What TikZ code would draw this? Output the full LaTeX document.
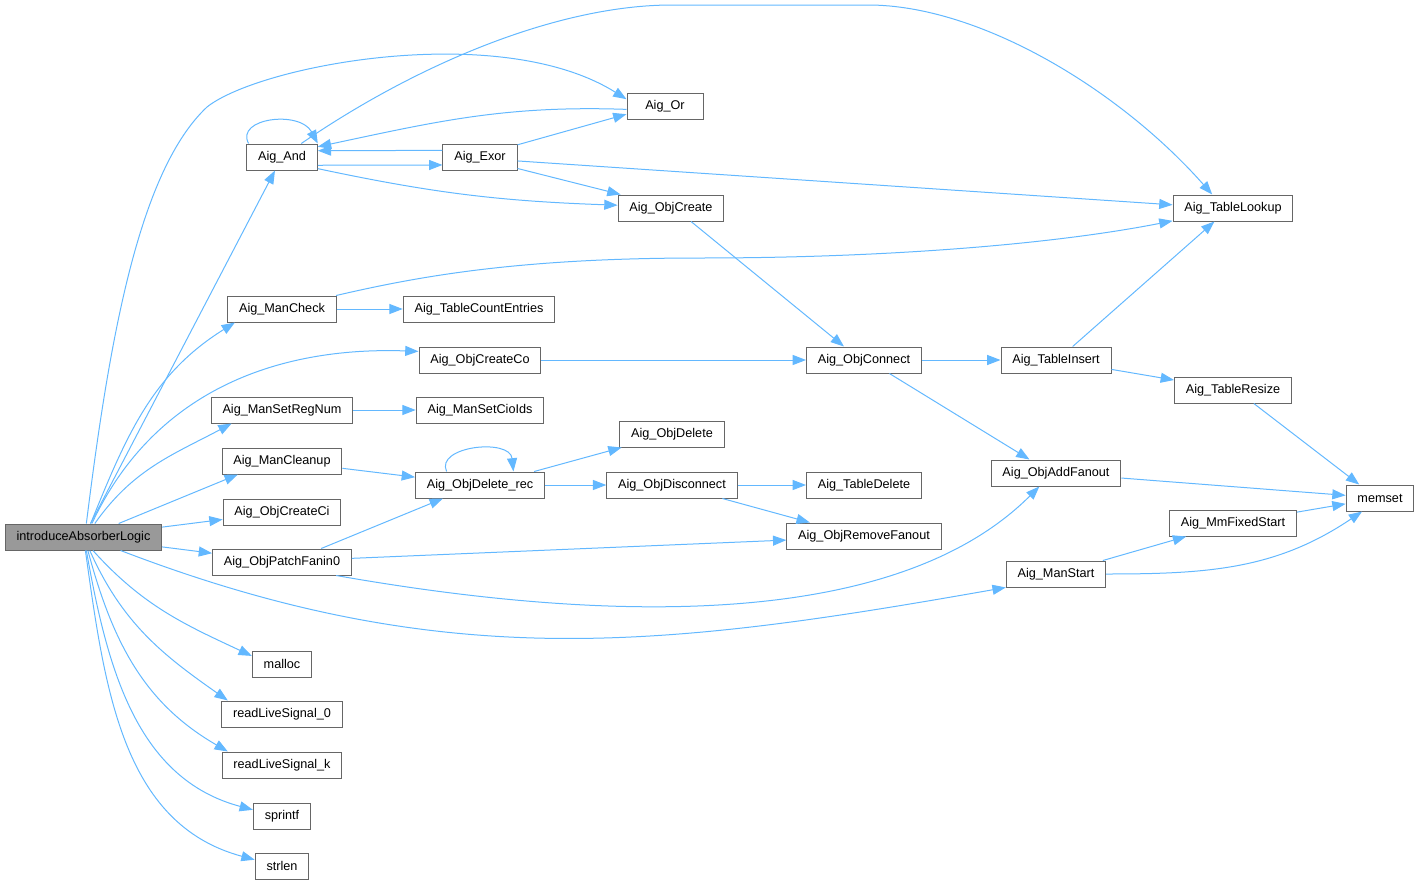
\documentclass[tikz,border=0pt]{standalone}
\usepackage{fontspec}
\setmainfont{Liberation Sans}
\usetikzlibrary{arrows.meta}
\definecolor{edgeblue}{HTML}{63B8FF}
\definecolor{boxline}{HTML}{666666}
\definecolor{rootfill}{HTML}{999999}

\begin{document}
\begin{tikzpicture}[
    x=0.75pt, y=0.75pt,
    fn/.style={rectangle, draw=boxline, line width=0.75pt, fill=white, font=\fontsize{9.5}{11}\selectfont, inner xsep=8.5pt, inner ysep=0pt, minimum height=19.5pt},
    root/.style={fn, fill=rootfill},
    arrow/.style={-{Triangle[length=10pt, width=7.5pt]}, edgeblue, line width=0.75pt}
]
\useasboundingbox (0,0) rectangle (1420,-885);

\node[root] (absorber) at (83.5,-537) {introduceAbsorberLogic};
\node[fn] (aigAnd) at (282,-157) {Aig\_And};
\node[fn, minimum width=57pt] (aigOr) at (665,-106) {Aig\_Or};
\node[fn] (aigExor) at (480,-157) {Aig\_Exor};
\node[fn] (objCreate) at (671,-208) {Aig\_ObjCreate};
\node[fn] (tabLookup) at (1233,-208) {Aig\_TableLookup};
\node[fn] (manCheck) at (282,-309) {Aig\_ManCheck};
\node[fn] (tabCount) at (479,-309) {Aig\_TableCountEntries};
\node[fn] (objCreateCo) at (480,-360) {Aig\_ObjCreateCo};
\node[fn] (objConnect) at (864,-360) {Aig\_ObjConnect};
\node[fn] (tabInsert) at (1056,-360) {Aig\_TableInsert};
\node[fn] (tabResize) at (1233,-390) {Aig\_TableResize};
\node[fn] (manSetReg) at (282,-410) {Aig\_ManSetRegNum};
\node[fn] (manSetCio) at (480,-410) {Aig\_ManSetCioIds};
\node[fn] (objDelete) at (672,-434) {Aig\_ObjDelete};
\node[fn] (manCleanup) at (282,-461) {Aig\_ManCleanup};
\node[fn] (objDeleteRec) at (480,-485) {Aig\_ObjDelete\_rec};
\node[fn] (objDisconnect) at (672,-485) {Aig\_ObjDisconnect};
\node[fn] (tabDelete) at (864,-485) {Aig\_TableDelete};
\node[fn] (objAddFanout) at (1056,-473) {Aig\_ObjAddFanout};
\node[fn] (memset) at (1380,-498) {memset};
\node[fn] (objCreateCi) at (282,-512) {Aig\_ObjCreateCi};
\node[fn] (objRemoveFanout) at (864,-536) {Aig\_ObjRemoveFanout};
\node[fn] (mmFixedStart) at (1233,-523) {Aig\_MmFixedStart};
\node[fn] (objPatch) at (282,-562) {Aig\_ObjPatchFanin0};
\node[fn] (manStart) at (1056,-574) {Aig\_ManStart};
\node[fn] (malloc) at (282,-664) {malloc};
\node[fn] (readSig0) at (282,-714) {readLiveSignal\_0};
\node[fn] (readSigK) at (282,-765) {readLiveSignal\_k};
\node[fn] (sprintf) at (282,-816) {sprintf};
\node[fn] (strlen) at (282,-866) {strlen};

% calls of the root
\draw[arrow] (absorber.78) .. controls (110,-333) and (140,-170) .. (207,-107) .. controls (260,-65) and (500,-20) .. (aigOr.170);
\draw[arrow] (absorber) -- (aigAnd);
\draw[arrow] (absorber.62) to[out=68, in=212] (manCheck.196);
\draw[arrow] (absorber.58) to[out=65, in=178] (objCreateCo.172);
\draw[arrow] (absorber.50) to[out=55, in=208] (manSetReg.195);
\draw[arrow] (absorber.21) -- (manCleanup.197);
\draw[arrow] (absorber) -- (objCreateCi);
\draw[arrow] (absorber) -- (objPatch);
\draw[arrow] (absorber.-20) to[out=-21, in=190] (manStart.195);
\draw[arrow] (absorber.-55) to[out=-48, in=155] (malloc.165);
\draw[arrow] (absorber.-65) to[out=-66, in=145] (readSig0.166);
\draw[arrow] (absorber.-72) to[out=-75, in=150] (readSigK.166);
\draw[arrow] (absorber.-78) to[out=-80, in=165] (sprintf.168);
\draw[arrow] (absorber.-82) to[out=-82, in=165] (strlen.167);

\draw[arrow] (aigAnd.158) .. controls (235,-118) and (300,-110) .. (aigAnd.north east);
\draw[arrow] (aigAnd.-13) -- (aigExor.192);
\draw[arrow] (aigAnd.-18) to[out=-12, in=178] (objCreate.177);
\draw[arrow] (aigAnd.35) .. controls (420,-62) and (560,-5) .. (672,-5) -- (868,-5) .. controls (980,-5) and (1120,-90) .. (tabLookup.147);
\draw[arrow] (aigOr.185) to[out=178, in=12] (aigAnd.16);
\draw[arrow] (aigExor.170) -- (aigAnd.10);
\draw[arrow] (aigExor.18) -- (aigOr.192);
\draw[arrow] (aigExor.-17) -- (objCreate.165);
\draw[arrow] (aigExor.-6) -- (tabLookup.177);
\draw[arrow] (objCreate.-34) -- (objConnect.146);
\draw[arrow] (manCheck.14) .. controls (420,-276) and (520,-258) .. (700,-258) .. controls (880,-258) and (1050,-245) .. (tabLookup.192);
\draw[arrow] (manCheck) -- (tabCount);
\draw[arrow] (objCreateCo) -- (objConnect);
\draw[arrow] (manSetReg) -- (manSetCio);
\draw[arrow] (manCleanup) -- (objDeleteRec);
\draw[arrow] (objDeleteRec.158) .. controls (435,-446) and (510,-438) .. (objDeleteRec.22);
\draw[arrow] (objDeleteRec.14) -- (objDelete.195);
\draw[arrow] (objDeleteRec) -- (objDisconnect);
\draw[arrow] (objDisconnect) -- (tabDelete);
\draw[arrow] (objDisconnect.-15) -- (objRemoveFanout.166);
\draw[arrow] (objPatch.19) -- (objDeleteRec.200);
\draw[arrow] (objPatch.3) -- (objRemoveFanout.183);
\draw[arrow] (objPatch.-14) to[out=-10, in=225, looseness=0.8] (objAddFanout.219);
\draw[arrow] (objConnect) -- (tabInsert);
\draw[arrow] (objConnect.-28) -- (objAddFanout.153);
\draw[arrow] (tabInsert.39) -- (tabLookup.216);
\draw[arrow] (tabInsert) -- (tabResize);
\draw[arrow] (tabResize.-33) -- (memset.147);
\draw[arrow] (objAddFanout) -- (memset);
\draw[arrow] (mmFixedStart) -- (memset);
\draw[arrow] (manStart) -- (mmFixedStart);
\draw[arrow] (manStart.east) to[out=0, in=214] (memset.217);
\end{tikzpicture}
\end{document}
